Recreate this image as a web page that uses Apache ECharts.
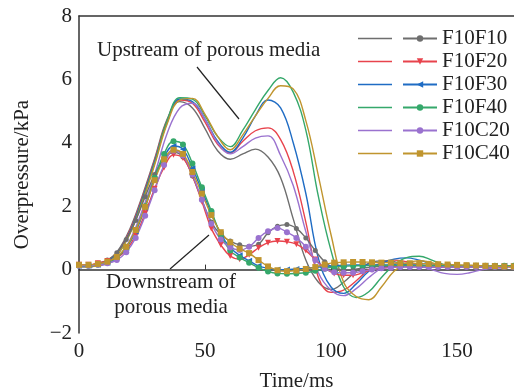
<!DOCTYPE html>
<html>
<head>
<meta charset="utf-8">
<script src="https://cdn.jsdelivr.net/npm/echarts@6/dist/echarts.min.js"></script>
<style>
  html, body { margin: 0; padding: 0; background: #fff; }
  #chart { width: 514px; height: 392px; }
</style>
</head>
<body>
<div id="chart"></div>
<script>
// time bases (ms)
const timeUp = [0,5,10,15,20,25,30,35,40,45,50,55,60,65,70,75,80,85,90,95,100,105,110,115,120,125,130,135,140,145,150,155,160,165,170];
const timeDown = [0,3.75,7.5,11.25,15,18.75,22.5,26.25,30,33.75,37.5,41.25,45,48.75,52.5,56.25,60,63.75,67.5,71.25,75,78.75,82.5,86.25,90,93.75,97.5,101.25,105,108.75,112.5,116.25,120,123.75,127.5,131.25,135,138.75,142.5,146.25,150,153.75,157.5,161.25,165,168.75,172.5];

const names = ['F10F10','F10F20','F10F30','F10F40','F10C20','F10C40'];
const colors = ['#6e6e6e','#e8434c','#1f6cc4','#35a86b','#9a72cf','#c0952e'];

// upstream of porous media (kPa)
const upF10F10 = [0.1,0.12,0.22,0.55,1.25,2.3,3.5,4.75,5.3,5.1,4.45,3.75,3.48,3.65,3.8,3.55,2.9,1.6,0.3,-0.4,-0.63,-0.4,-0.05,0.2,0.28,0.25,0.15,0.1,0.08,0.08,0.08,0.08,0.08,0.08,0.08];
const upF10F20 = [0.1,0.1,0.2,0.5,1.2,2.25,3.45,4.7,5.35,5.25,4.65,3.95,3.68,4.05,4.38,4.47,4.1,3.1,1.5,-0.25,-0.72,-0.65,-0.35,0.0,0.22,0.3,0.25,0.15,0.1,0.08,0.08,0.08,0.08,0.08,0.08];
const upF10F30 = [0.1,0.1,0.2,0.5,1.15,2.2,3.4,4.65,5.38,5.3,4.75,4.05,3.7,4.15,4.85,5.35,5.1,4.0,2.4,0.35,-0.55,-0.75,-0.45,-0.05,0.2,0.33,0.37,0.3,0.18,0.1,0.08,0.08,0.1,0.1,0.1];
const upF10F40 = [0.1,0.1,0.18,0.45,1.1,2.15,3.35,4.7,5.42,5.38,4.85,4.2,3.88,4.4,5.05,5.65,6.05,5.6,4.4,2.3,0.6,-0.55,-0.88,-0.7,-0.25,0.15,0.38,0.42,0.3,0.15,0.08,0.08,0.1,0.1,0.1];
const upF10C20 = [0.1,0.1,0.15,0.35,0.9,1.85,3.0,4.3,5.1,5.25,4.75,4.0,3.65,3.88,4.15,4.22,3.6,2.65,1.2,-0.1,-0.65,-0.82,-0.6,-0.25,0.05,0.18,0.2,0.12,0.0,-0.12,-0.15,-0.1,0.0,0.05,0.05];
const upF10C40 = [0.1,0.1,0.18,0.45,1.1,2.1,3.3,4.6,5.35,5.4,4.9,4.2,3.78,4.25,4.85,5.4,5.8,5.7,4.7,2.95,1.1,-0.4,-0.85,-0.95,-0.55,-0.05,0.2,0.28,0.22,0.12,0.08,0.08,0.1,0.1,0.1];

// downstream of porous media (kPa)
const downF10F10 = [0.12,0.13,0.2,0.3,0.53,0.95,1.55,2.3,3.0,3.5,3.7,3.55,2.95,2.2,1.5,1.1,0.9,0.78,0.74,0.8,1.16,1.37,1.42,1.3,1.0,0.6,0.25,0.05,0.0,0.0,0.05,0.08,0.1,0.1,0.1,0.1,0.1,0.1,0.1,0.1,0.1,0.1,0.1,0.1,0.1,0.1,0.1];
const downF10F20 = [0.15,0.15,0.2,0.27,0.38,0.62,1.08,1.78,2.55,3.22,3.62,3.52,2.95,2.15,1.3,0.78,0.43,0.33,0.47,0.69,0.85,0.9,0.88,0.8,0.6,0.32,0.05,-0.12,-0.18,-0.18,-0.1,0.0,0.05,0.08,0.1,0.1,0.1,0.1,0.1,0.1,0.1,0.1,0.1,0.1,0.1,0.1,0.1];
const downF10F30 = [0.12,0.12,0.15,0.22,0.38,0.68,1.2,1.95,2.85,3.55,3.9,3.8,3.2,2.5,1.78,1.12,0.7,0.45,0.28,0.12,0.04,0.0,0.0,0.02,0.04,0.07,0.1,0.12,0.14,0.15,0.15,0.15,0.15,0.15,0.15,0.14,0.14,0.13,0.13,0.12,0.12,0.12,0.12,0.12,0.12,0.12,0.12];
const downF10F40 = [0.12,0.12,0.15,0.22,0.38,0.7,1.25,2.0,2.9,3.65,4.05,3.95,3.35,2.6,1.85,1.1,0.6,0.38,0.22,0.06,-0.06,-0.12,-0.13,-0.12,-0.1,-0.04,0.03,0.08,0.1,0.12,0.12,0.13,0.13,0.13,0.13,0.13,0.12,0.12,0.12,0.12,0.12,0.12,0.12,0.12,0.12,0.12,0.12];
const downF10C20 = [0.12,0.12,0.15,0.2,0.3,0.55,1.0,1.7,2.5,3.3,3.75,3.6,3.0,2.2,1.45,0.95,0.7,0.62,0.72,1.0,1.21,1.31,1.18,1.0,0.72,0.3,0.03,-0.08,-0.1,-0.1,-0.05,0.0,0.04,0.06,0.08,0.08,0.08,0.08,0.08,0.08,0.08,0.08,0.08,0.08,0.08,0.08,0.08];
const downF10C40 = [0.15,0.15,0.18,0.25,0.4,0.72,1.25,1.98,2.82,3.48,3.78,3.65,3.08,2.4,1.72,1.18,0.86,0.66,0.52,0.3,0.1,-0.02,-0.05,-0.03,0.02,0.08,0.16,0.22,0.23,0.24,0.24,0.23,0.22,0.22,0.2,0.2,0.19,0.18,0.17,0.16,0.15,0.14,0.13,0.12,0.11,0.1,0.1];

const xTicks = [0,50,100,150];

const upData = [upF10F10, upF10F20, upF10F30, upF10F40, upF10C20, upF10C40];
const downData = [downF10F10, downF10F20, downF10F30, downF10F40, downF10C20, downF10C40];
const symbols = ['circle','triangle','triangle','circle','circle','rect'];
const symbolRot = [0,180,90,0,0,0];
const symbolSz = [5,6,6,6,6,6];

const FONT = "'Liberation Serif', 'Times New Roman', serif";
const zip = (t, v) => t.map((x, i) => [x, v[i]]);

const chart = echarts.init(document.getElementById('chart'));

let series = [];
names.forEach((n, i) => {
  series.push({
    name: n + '-up',
    type: 'line',
    data: zip(timeUp, upData[i]),
    smooth: 0.4,
    symbol: 'none',
    lineStyle: { width: 1.4, color: colors[i] },
    itemStyle: { color: colors[i] },
    z: 2
  });
});
names.forEach((n, i) => {
  series.push({
    name: n,
    type: 'line',
    data: zip(timeDown, downData[i]),
    smooth: 0.4,
    symbol: symbols[i],
    symbolRotate: symbolRot[i],
    symbolSize: symbolSz[i],
    showAllSymbol: true,
    lineStyle: { width: 1.4, color: colors[i] },
    itemStyle: { color: colors[i] },
    z: 3
  });
});

const legendBase = {
  orient: 'vertical',
  top: 23,
  itemWidth: 34,
  itemHeight: 8,
  itemGap: 2,
  selectedMode: false,
  textStyle: { fontFamily: FONT, fontSize: 21, color: '#222', lineHeight: 21 }
};

const option = {
  animation: false,
  backgroundColor: '#fff',
  grid: { left: 79, right: 0, top: 16, bottom: 59, outerBoundsMode: 'none' },
  legend: [
    Object.assign({}, legendBase, {
      left: 353, icon: 'rect', itemHeight: 1.5,
      data: names.map(n => n + '-up'), formatter: () => ' '
    }),
    Object.assign({}, legendBase, { left: 397, data: names })
  ],
  xAxis: [{
    type: 'value',
    min: 0,
    max: 172.6,
    interval: 50,
    name: 'Time/ms',
    nameLocation: 'middle',
    nameGap: 38,
    nameTextStyle: { fontFamily: FONT, fontSize: 21, color: '#222' },
    axisLine: { show: true, lineStyle: { color: '#333', width: 1.5 } },
    axisTick: { show: true, inside: true, length: 5, customValues: xTicks, lineStyle: { color: '#333' } },
    axisLabel: { customValues: xTicks, fontFamily: FONT, fontSize: 21, color: '#222', margin: 8 },
    splitLine: { show: false }
  }, {
    type: 'value',
    position: 'top',
    min: 0,
    max: 172.6,
    axisLine: { show: true, lineStyle: { color: '#333', width: 1.5 } },
    axisTick: { show: false },
    axisLabel: { show: false },
    splitLine: { show: false }
  }],
  yAxis: {
    type: 'value',
    min: -2,
    max: 8,
    interval: 2,
    name: 'Overpressure/kPa',
    nameLocation: 'middle',
    nameGap: 46,
    nameTextStyle: { fontFamily: FONT, fontSize: 21, color: '#222' },
    axisLine: { show: true, lineStyle: { color: '#333', width: 1.5 } },
    axisTick: { show: false },
    axisLabel: {
      fontFamily: FONT, fontSize: 21, color: '#222', margin: 7,
      formatter: v => String(v).replace('-', '\u2212')
    },
    splitLine: { show: false }
  },
  graphic: [
    { type: 'text', left: 97, top: 40, style: { text: 'Upstream of porous media', font: '21px ' + FONT, fill: '#222' } },
    { type: 'line', shape: { x1: 197, y1: 67, x2: 239, y2: 119 }, style: { stroke: '#222', lineWidth: 1.2 } },
    { type: 'text', x: 171, y: 282, style: { text: 'Downstream of', font: '21px ' + FONT, fill: '#222', align: 'center', verticalAlign: 'middle' } },
    { type: 'text', x: 171, y: 307, style: { text: 'porous media', font: '21px ' + FONT, fill: '#222', align: 'center', verticalAlign: 'middle' } },
    { type: 'line', shape: { x1: 170, y1: 269, x2: 209, y2: 235 }, style: { stroke: '#222', lineWidth: 1.2 } }
  ],
  series: series
};

chart.setOption(option);
</script>
</body>
</html>
